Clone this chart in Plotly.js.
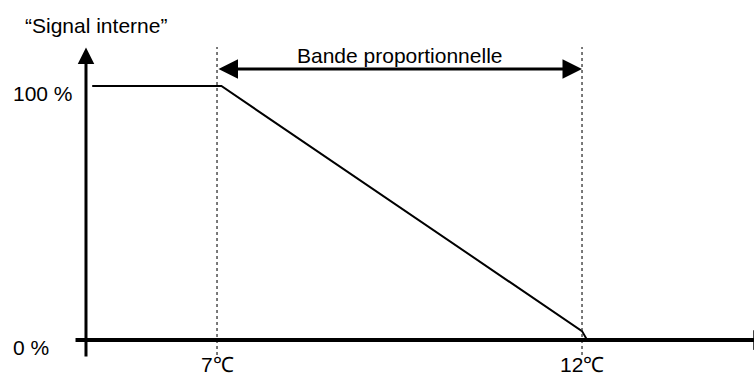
<!DOCTYPE html>
<html>
<head>
<meta charset="utf-8">
<script src="https://cdn.plot.ly/plotly-3.0.1.min.js"></script>
<style>
  html, body { margin: 0; padding: 0; background: #fff; }
  #chart { width: 754px; height: 376px; }
</style>
</head>
<body>
<div id="chart"></div>
<script>
// Internal signal vs temperature: proportional band between 7 and 12 degrees.
var signalTemp = [5.29, 7.06, 12.0, 12.07];
var signalPct = [100, 100, 3.5, 0];

var tickTemps = [7, 12];
var tickLabels = ['7\u2103', '12\u2103'];

var levelPct = [100, 0];
var levelLabels = ['100 %', '0 %'];

var bandTemps = [7, 12];
var bandLabel = 'Bande proportionnelle';
var yTitle = '\u201cSignal interne\u201d';

// where the drawn axes cross (temperature of the y axis, level of the x axis)
var yAxisTemp = 5.205;
var xAxisPct = 0;

var font = {family: 'Liberation Sans, Arial, sans-serif', size: 21, color: '#000'};

var shapes = [], annotations = [];

// dotted guides at the band limits
bandTemps.forEach(function(t) {
    shapes.push({type: 'line', xref: 'x', yref: 'y', x0: t, x1: t, y0: -5.9, y1: 115.4,
                 line: {color: '#222', width: 1.2, dash: 'dot'}});
});

// x axis with arrow to the right (head mostly past the edge)
annotations.push({xref: 'x', yref: 'y', axref: 'x', ayref: 'y',
    x: 14.62, y: xAxisPct, ax: 5.041, ay: xAxisPct, text: '', showarrow: true,
    arrowhead: 2, arrowwidth: 4, arrowsize: 1, arrowcolor: '#000'});

// y axis with arrow to the top
annotations.push({xref: 'x', yref: 'y', axref: 'x', ayref: 'y',
    x: yAxisTemp, y: 115.2, ax: yAxisTemp, ay: -7.1, text: '', showarrow: true,
    arrowhead: 2, arrowwidth: 3, arrowsize: 1.1, arrowcolor: '#000'});

// proportional band double arrow
annotations.push({xref: 'x', yref: 'y', axref: 'x', ayref: 'y',
    x: bandTemps[1], y: 106.7, ax: bandTemps[0], ay: 106.7, text: '', showarrow: true,
    arrowhead: 2, arrowside: 'end+start', arrowwidth: 3, arrowsize: 1.3, arrowcolor: '#000'});
annotations.push({xref: 'x', yref: 'y', x: (bandTemps[0] + bandTemps[1]) / 2, y: 112.2,
    text: bandLabel, showarrow: false, font: font});

// y title
annotations.push({xref: 'x', yref: 'y', x: 4.342, y: 124, xanchor: 'left',
    text: yTitle, showarrow: false, font: font});

// level labels
levelPct.forEach(function(v, i) {
    annotations.push({xref: 'x', yref: 'y', x: 4.18, y: v, yshift: -7, xanchor: 'left',
        text: levelLabels[i], showarrow: false, font: font});
});

// temperature labels
tickTemps.forEach(function(t, i) {
    annotations.push({xref: 'x', yref: 'y', x: t, y: xAxisPct, yshift: -24,
        text: tickLabels[i], showarrow: false, font: font});
});

var trace = {
    x: signalTemp, y: signalPct, type: 'scatter', mode: 'lines',
    line: {color: '#000', width: 2}, hoverinfo: 'skip', cliponaxis: false
};

var layout = {
    width: 754, height: 376,
    margin: {l: 0, r: 0, t: 0, b: 0, pad: 0},
    paper_bgcolor: '#fff', plot_bgcolor: '#fff',
    showlegend: false,
    xaxis: {range: [4.027, 14.356], visible: false, fixedrange: true},
    yaxis: {range: [-14.17, 133.86], visible: false, fixedrange: true},
    shapes: shapes,
    annotations: annotations,
    font: font
};

Plotly.newPlot('chart', [trace], layout, {displayModeBar: false, staticPlot: true});
</script>
</body>
</html>
